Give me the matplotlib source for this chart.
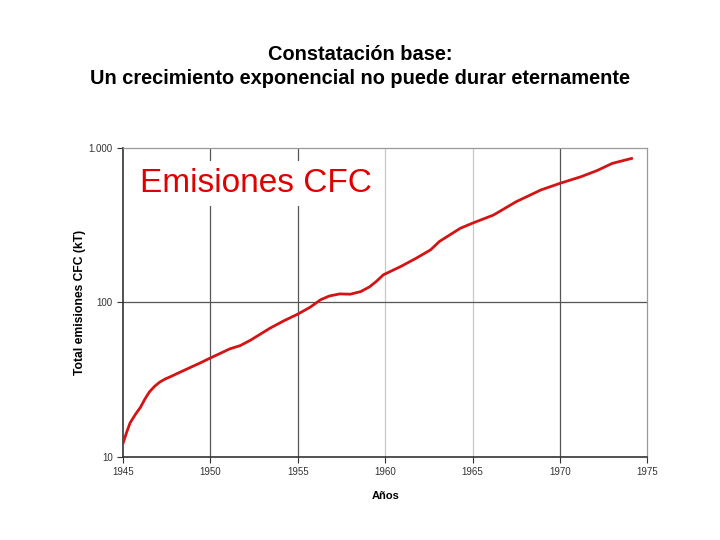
import matplotlib
matplotlib.use("Agg")
import matplotlib.pyplot as plt
from matplotlib.ticker import FixedLocator, FixedFormatter

plt.rcParams['font.family'] = ['Liberation Sans', 'DejaVu Sans']

years = [1945.0, 1945.2, 1945.4, 1945.7, 1946.0, 1946.25, 1946.5, 1946.8, 1947.1,
         1947.4, 1947.7, 1948.3, 1948.8, 1949.4,
         1950.0, 1950.6, 1951.1, 1951.7, 1952.3, 1953.4, 1954.2, 1955.0, 1955.7,
         1956.3, 1956.8, 1957.4, 1958.0, 1958.6, 1959.1, 1959.5, 1959.9, 1960.9, 1961.8,
         1962.6, 1963.1, 1964.3, 1965.0, 1966.2, 1967.5, 1968.9, 1970.0, 1971.2,
         1972.1, 1973.0, 1974.1]
emisiones = [12.3, 14.4, 16.6, 18.8, 21, 23.7, 26.3, 28.6, 30.5,
             31.9, 33, 35.5, 37.7, 40.5,
             43.7, 47, 50, 52.5, 57, 68, 76, 84, 93,
             104, 110, 113.5, 113, 117.5, 126, 137, 151, 171, 194,
             219, 248, 302, 326, 368, 449, 534, 590, 651,
             712, 795, 855]

xticks = [1945, 1950, 1955, 1960, 1965, 1970, 1975]
yticks = [10, 100, 1000]
ylabels = ['10', '100', '1.000']

fig = plt.figure(figsize=(7.2, 5.4), dpi=100)
fig.text(0.5, 0.877, "Constatación base:\nUn crecimiento exponencial no puede durar eternamente",
         ha='center', va='center', fontsize=14.4, fontweight='bold', linespacing=1.3)

ax = fig.add_axes([0.171, 0.154, 0.728, 0.572])
ax.set_yscale('log')
ax.set_xlim(1945, 1975)
ax.set_ylim(10, 1000)

# grid lines
for yr in [1950, 1955, 1970]:
    ax.axvline(yr, color='#555555', lw=0.9, zorder=1)
for yr in [1960, 1965]:
    ax.axvline(yr, color='#c8c8c8', lw=0.9, zorder=1)
ax.axhline(100, color='#555555', lw=0.9, zorder=1)

ax.plot(years, emisiones, color='#d41414', lw=2, zorder=3)

ax.yaxis.set_major_locator(FixedLocator(yticks))
ax.yaxis.set_major_formatter(FixedFormatter(ylabels))
ax.yaxis.set_minor_locator(FixedLocator([]))
ax.set_xticks(xticks)
ax.tick_params(labelsize=7, colors='#333333', length=4, width=0.8)

for s in ['left', 'bottom']:
    ax.spines[s].set_color('#333333')
    ax.spines[s].set_linewidth(1.2)
for s in ['top', 'right']:
    ax.spines[s].set_color('#999999')
    ax.spines[s].set_linewidth(0.9)

ax.set_xlabel("Años", fontsize=8, fontweight='bold', labelpad=10)
ax.set_ylabel("Total emisiones CFC (kT)", fontsize=8.7, fontweight='bold', labelpad=2)

ax.text(0.032, 0.885, "Emisiones CFC", transform=ax.transAxes, fontsize=24,
        color='#e00000', ha='left', va='center', zorder=5,
        bbox=dict(facecolor='white', edgecolor='none', pad=5))

fig.savefig("out.png", dpi=100)
